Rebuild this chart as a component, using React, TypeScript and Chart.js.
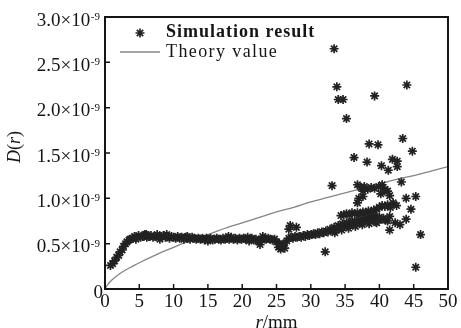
import React, { useEffect, useRef } from 'react';
import { Chart, registerables } from 'chart.js';

Chart.register(...registerables);

// ---- data (D in units of 1e-9) ----
const xTicks = [0, 5, 10, 15, 20, 25, 30, 35, 40, 45, 50];
const yTicks = [0, 0.5, 1.0, 1.5, 2.0, 2.5, 3.0];
const yExponent = '-9';
const xTitle = ['r', '/mm'];
const yTitle = ['D', '(', 'r', ')'];
const legendLabels = ['Simulation result', 'Theory value'];

const theoryR = [0, 0.5, 1, 2, 3, 4, 5, 7.5, 10, 12.5, 15, 17.5, 20, 22.5, 25, 27.5, 30, 32.5, 35, 37.5, 40, 42.5, 45, 47.5, 50];
const theoryD = [0, 0.06, 0.1, 0.16, 0.21, 0.25, 0.29, 0.38, 0.46, 0.54, 0.6, 0.67, 0.73, 0.79, 0.85, 0.9, 0.96, 1.01, 1.06, 1.11, 1.16, 1.21, 1.25, 1.3, 1.35];

const simBand: [number, number][] = [
  [0.8, 0.26], [1.1, 0.28], [1.4, 0.31], [1.7, 0.35], [2.0, 0.37], [2.2, 0.41], [2.5, 0.43], [2.7, 0.47], [3.0, 0.5], [3.2, 0.52], [3.5, 0.54], [3.7, 0.55],
  [4.0, 0.56], [4.3, 0.58], [4.6, 0.57], [4.9, 0.59], [5.2, 0.57], [5.5, 0.58], [5.8, 0.6], [6.1, 0.57], [6.4, 0.58], [6.7, 0.59], [7.0, 0.57], [7.3, 0.58], [7.6, 0.6], [7.9, 0.57], [8.2, 0.58], [8.5, 0.59], [8.8, 0.57], [9.1, 0.58], [9.4, 0.56], [9.7, 0.58], [10.0, 0.57], [10.3, 0.56], [10.6, 0.58], [10.9, 0.56], [11.2, 0.57], [11.5, 0.55], [11.8, 0.57], [12.1, 0.56], [12.4, 0.55], [12.7, 0.57], [13.0, 0.56],
  [13.3, 0.55], [13.6, 0.56], [13.9, 0.55], [14.2, 0.56], [14.5, 0.54], [14.8, 0.56], [15.1, 0.55], [15.4, 0.56], [15.7, 0.54], [16.0, 0.55], [16.3, 0.56], [16.6, 0.55], [16.9, 0.54], [17.2, 0.56], [17.5, 0.55], [17.8, 0.56], [18.1, 0.55], [18.4, 0.57], [18.7, 0.55], [19.0, 0.56], [19.3, 0.54], [19.6, 0.56], [19.9, 0.55], [20.2, 0.56], [20.5, 0.55], [20.8, 0.57], [21.1, 0.55], [21.4, 0.56], [21.7, 0.54], [22.0, 0.55], [22.3, 0.53], [22.6, 0.49], [22.9, 0.54], [23.2, 0.56], [23.5, 0.55], [23.8, 0.56], [24.1, 0.55], [24.4, 0.54], [24.7, 0.55], [25.0, 0.52], [25.3, 0.46], [25.6, 0.44], [25.9, 0.47], [26.2, 0.45], [26.5, 0.53], [26.8, 0.56], [27.1, 0.57], [27.4, 0.56], [27.7, 0.58], [28.0, 0.57], [28.3, 0.58], [28.6, 0.57], [28.9, 0.59], [29.2, 0.58], [29.5, 0.6], [29.8, 0.59],
  [30.1, 0.6], [30.4, 0.61], [30.7, 0.6], [31.0, 0.62], [31.3, 0.61], [31.6, 0.63], [31.9, 0.62], [32.2, 0.64], [32.5, 0.63], [32.8, 0.66], [33.1, 0.65], [33.4, 0.68], [33.7, 0.66], [34.0, 0.7], [34.3, 0.68], [34.6, 0.72], [34.9, 0.7], [35.2, 0.73], [35.5, 0.71], [35.8, 0.74], [36.1, 0.72], [36.4, 0.75], [36.7, 0.73], [37.0, 0.76], [37.3, 0.74], [37.6, 0.77], [37.9, 0.75], [38.2, 0.78], [38.5, 0.76], [38.8, 0.79], [39.1, 0.77], [39.4, 0.8], [39.7, 0.78], [40.0, 0.79], [40.3, 0.77], [40.6, 0.78], [40.9, 0.76], [41.2, 0.75],
];

const simSpread: [number, number][] = [
  [4.5, 0.55], [6.0, 0.6], [8.0, 0.55], [9.0, 0.6], [12.0, 0.58], [15.0, 0.53], [18.0, 0.58], [21.0, 0.53], [23.0, 0.58],
  [25.4, 0.5], [26.0, 0.5], [26.8, 0.66], [27.0, 0.7], [27.9, 0.68], [33.5, 0.62], [34.5, 0.65], [35.5, 0.67], [36.5, 0.69], [37.5, 0.71], [38.5, 0.72], [39.5, 0.74],
];

const simBranch: [number, number][] = [
  [34.4, 0.81], [34.8, 0.82], [35.2, 0.83], [35.6, 0.82], [36.0, 0.84], [36.4, 0.83], [36.8, 0.84], [37.2, 0.83], [37.6, 0.85], [38.0, 0.84], [38.4, 0.86], [38.8, 0.85], [39.2, 0.87], [39.6, 0.88], [40.0, 0.9], [40.4, 0.92], [40.8, 0.91], [41.2, 0.93], [41.6, 0.9], [42.0, 0.95],
];

const simOutliers: [number, number][] = [
  [33.4, 2.65], [33.8, 2.23], [34.0, 2.09], [34.7, 2.09], [35.2, 1.88], [39.3, 2.13], [44.0, 2.25], [38.5, 1.6], [39.8, 1.59], [43.4, 1.66], [44.8, 1.52], [36.3, 1.45], [38.2, 1.4], [41.9, 1.43], [42.6, 1.41], [40.3, 1.36], [41.3, 1.31], [42.6, 1.35], [43.2, 1.18], [33.1, 1.14],
  [36.8, 1.15], [37.3, 1.12], [37.8, 1.13], [38.3, 1.1], [38.8, 1.12], [39.3, 1.11], [39.9, 1.13], [40.4, 1.15], [40.8, 1.1], [41.2, 1.08], [37.6, 1.08], [37.0, 1.0], [37.6, 1.02], [36.8, 0.95], [40.2, 1.05], [40.7, 1.08], [41.5, 1.03], [43.9, 1.0], [45.3, 1.02], [42.5, 0.92], [44.6, 0.88],
  [41.5, 0.8], [42.3, 0.73], [43.0, 0.71], [43.9, 0.77], [41.5, 0.65], [46.0, 0.6], [45.3, 0.24], [32.1, 0.41], [39.6, 0.73],
];

const SERIF = '"Liberation Serif", "Times New Roman", serif';
const INK = '#151515';
const MARKER = '#222222';
const LINE = '#858585';

function drawStar(ctx: CanvasRenderingContext2D, x: number, y: number, r: number) {
  ctx.beginPath();
  ctx.moveTo(x - r, y); ctx.lineTo(x + r, y);
  ctx.moveTo(x, y - r); ctx.lineTo(x, y + r);
  const d = r * Math.SQRT1_2;
  ctx.moveTo(x - d, y - d); ctx.lineTo(x + d, y + d);
  ctx.moveTo(x - d, y + d); ctx.lineTo(x + d, y - d);
  ctx.stroke();
}

const decor = {
  id: 'decor',
  afterDraw(chart: any) {
    const ctx: CanvasRenderingContext2D = chart.ctx;
    const { left, right, top, bottom } = chart.chartArea;
    const xs = chart.scales.x;
    const ys = chart.scales.y;
    ctx.save();
    // frame
    ctx.strokeStyle = INK;
    ctx.lineWidth = 2;
    ctx.strokeRect(left, top, right - left, bottom - top);
    // inward ticks
    ctx.lineWidth = 1.5;
    ctx.beginPath();
    xTicks.forEach((v) => {
      const px = xs.getPixelForValue(v);
      ctx.moveTo(px, bottom);
      ctx.lineTo(px, bottom - 5);
    });
    yTicks.forEach((v) => {
      const py = ys.getPixelForValue(v);
      ctx.moveTo(left, py);
      ctx.lineTo(left + 5, py);
    });
    ctx.stroke();

    ctx.fillStyle = INK;
    // x tick labels
    ctx.font = `19px ${SERIF}`;
    ctx.textAlign = 'center';
    ctx.textBaseline = 'alphabetic';
    xTicks.forEach((v) => {
      ctx.fillText(String(v), xs.getPixelForValue(v), 307);
    });
    // y tick labels
    ctx.textAlign = 'right';
    yTicks.forEach((v) => {
      const py = ys.getPixelForValue(v);
      if (v === 0) {
        ctx.font = `19px ${SERIF}`;
        ctx.fillText('0', 103, py + 9);
      } else {
        ctx.font = `11px ${SERIF}`;
        const ew = ctx.measureText(yExponent).width;
        ctx.fillText(yExponent, 100, py + 3);
        ctx.font = `19px ${SERIF}`;
        ctx.fillText(v.toFixed(1) + '×10', 100 - ew - 0.5, py + 8.5);
      }
    });

    // x title: "r/mm"
    ctx.textAlign = 'left';
    ctx.font = `italic 19px ${SERIF}`;
    const w1 = ctx.measureText(xTitle[0]).width;
    ctx.font = `19px ${SERIF}`;
    const w2 = ctx.measureText(xTitle[1]).width;
    const cx = (left + right) / 2;
    const sx = cx - (w1 + w2) / 2;
    ctx.font = `italic 19px ${SERIF}`;
    ctx.fillText(xTitle[0], sx, 328);
    ctx.font = `19px ${SERIF}`;
    ctx.fillText(xTitle[1], sx + w1, 328);

    // y title: "D(r)" rotated
    ctx.save();
    ctx.translate(20, 147);
    ctx.rotate(-Math.PI / 2);
    const fonts = [`italic 18px ${SERIF}`, `18px ${SERIF}`, `italic 18px ${SERIF}`, `18px ${SERIF}`];
    const widths = yTitle.map((t, i) => { ctx.font = fonts[i]; return ctx.measureText(t).width; });
    let tx = -widths.reduce((a, b) => a + b, 0) / 2;
    yTitle.forEach((t, i) => {
      ctx.font = fonts[i];
      ctx.fillText(t, tx, 0);
      tx += widths[i];
    });
    ctx.restore();

    // legend
    ctx.strokeStyle = MARKER;
    ctx.lineWidth = 1.7;
    drawStar(ctx, 140, 33, 4.5);
    ctx.strokeStyle = LINE;
    ctx.lineWidth = 1.3;
    ctx.beginPath();
    ctx.moveTo(120, 52);
    ctx.lineTo(160, 52);
    ctx.stroke();
    ctx.fillStyle = INK;
    ctx.textAlign = 'left';
    (ctx as any).letterSpacing = '1px';
    ctx.font = `bold 18px ${SERIF}`;
    ctx.fillText(legendLabels[0], 166, 37);
    (ctx as any).letterSpacing = '1.4px';
    ctx.font = `18px ${SERIF}`;
    ctx.fillText(legendLabels[1], 166, 57);
    (ctx as any).letterSpacing = '0px';
    ctx.restore();
  },
};

export default function App() {
  const ref = useRef<HTMLCanvasElement>(null);
  useEffect(() => {
    if (!ref.current) return;
    const simPoints = [...simBand, ...simSpread, ...simBranch, ...simOutliers].map(([x, y]) => ({ x, y }));
    const theoryPoints = theoryR.map((x, i) => ({ x, y: theoryD[i] }));
    const chart = new Chart(ref.current, {
      type: 'scatter',
      data: {
        datasets: [
          {
            label: legendLabels[0],
            data: simPoints,
            pointStyle: 'star',
            pointRadius: 4.5,
            pointBorderWidth: 1.7,
            borderColor: MARKER,
            backgroundColor: MARKER,
            showLine: false,
            order: 1,
          },
          {
            label: legendLabels[1],
            data: theoryPoints,
            showLine: true,
            pointRadius: 0,
            borderColor: LINE,
            borderWidth: 1.3,
            tension: 0.4,
            cubicInterpolationMode: 'monotone',
            order: 2,
          } as any,
        ],
      },
      options: {
        animation: false,
        responsive: true,
        maintainAspectRatio: false,
        devicePixelRatio: 1,
        layout: { padding: { top: 17, right: 13, left: 0, bottom: 0 } },
        plugins: { legend: { display: false }, tooltip: { enabled: false } },
        scales: {
          x: {
            type: 'linear',
            min: 0,
            max: 50,
            grid: { display: false },
            border: { display: false },
            ticks: { display: false, stepSize: 5 },
            afterFit: (s: any) => { s.height = 39; },
          },
          y: {
            type: 'linear',
            min: 0,
            max: 3,
            grid: { display: false },
            border: { display: false },
            ticks: { display: false, stepSize: 0.5 },
            afterFit: (s: any) => { s.width = 105; },
          },
        },
      },
      plugins: [decor],
    });
    return () => chart.destroy();
  }, []);
  return (
    <div style={{ position: 'fixed', left: 0, top: 0, width: 461, height: 328, background: '#fff' }}>
      <canvas ref={ref} />
    </div>
  );
}
